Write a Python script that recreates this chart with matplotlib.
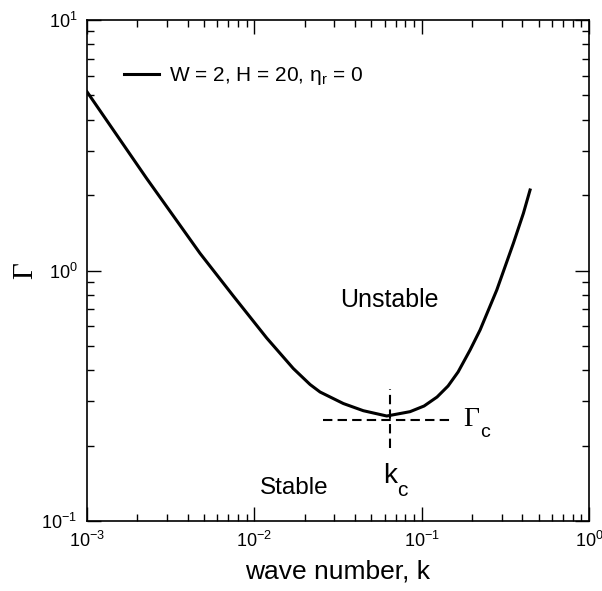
import numpy as np
import matplotlib
matplotlib.use("Agg")
import matplotlib.pyplot as plt

plt.rcParams["font.family"] = "Liberation Sans"
plt.rcParams["mathtext.fontset"] = "custom"
plt.rcParams["mathtext.rm"] = "Liberation Sans"
plt.rcParams["mathtext.it"] = "Liberation Sans"
plt.rcParams["mathtext.sf"] = "Liberation Sans"
plt.rcParams["mathtext.default"] = "regular"
plt.rcParams["axes.unicode_minus"] = False

# marginal stability curve
k = [0.001, 0.002274, 0.004736, 0.00749, 0.01186, 0.01709, 0.02153, 0.0247,
     0.03404, 0.04481, 0.06187, 0.08524, 0.1034, 0.1236, 0.1438, 0.1651,
     0.1947, 0.2234, 0.2811, 0.3532, 0.4054, 0.4444]
gamma = [5.17, 2.329, 1.171, 0.791, 0.5375, 0.4063, 0.3507, 0.3273,
         0.2944, 0.2756, 0.2625, 0.2732, 0.2878, 0.3126, 0.3459, 0.3935,
         0.4816, 0.5788, 0.8359, 1.284, 1.691, 2.096]

k_c = 0.0647
gamma_c = 0.253
legend_label = "W = 2, H = 20, η$_r$ = 0"

fig = plt.figure(figsize=(6.02, 5.91), dpi=100)
ax = fig.add_axes([87 / 602, 70 / 591, 502 / 602, 501 / 591])

ax.plot(k, gamma, color="black", lw=2.2, label=legend_label)
ax.plot([0.0258, 0.154], [gamma_c, gamma_c], color="black", lw=1.5, dashes=(4.5, 2.5))
ax.plot([k_c, k_c], [0.195, 0.336], color="black", lw=1.5, dashes=(4.5, 2.5))

ax.set_xscale("log")
ax.set_yscale("log")
ax.set_xlim(1e-3, 1)
ax.set_ylim(0.1, 10)

ax.tick_params(which="both", direction="in", top=True, right=True, labelsize=13, pad=7)
ax.tick_params(which="major", length=10, width=1)
ax.tick_params(which="minor", length=5, width=1)
for s in ax.spines.values():
    s.set_linewidth(1.2)

ax.set_xlabel("wave number, k", fontsize=19, labelpad=6)
ax.set_ylabel("Γ", fontsize=21, family="Liberation Serif")
ax.yaxis.set_label_coords(-0.097, 0.5)

ax.text(0.0325, 0.715, "Unstable", fontsize=18)
ax.text(0.0108, 0.128, "Stable", fontsize=17.5)
ax.text(0.0587, 0.142, "k", fontsize=20)
ax.text(0.0713, 0.126, "c", fontsize=15)
ax.text(0.1766, 0.2393, "Γ", fontsize=20, family="Liberation Serif")
ax.text(0.2234, 0.216, "c", fontsize=14)

ax.legend(loc="center left", bbox_to_anchor=(0.0737, 0.888), frameon=False,
          fontsize=15, handlelength=1.7, handletextpad=0.45, borderpad=0, borderaxespad=0)

fig.savefig("out.png", dpi=100)
